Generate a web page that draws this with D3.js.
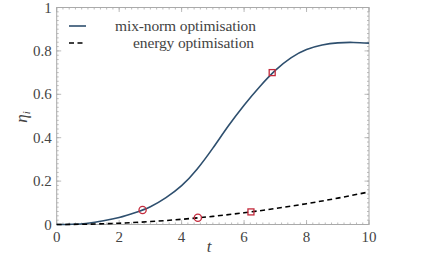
<!DOCTYPE html>
<html>
<head>
<meta charset="utf-8">
<script src="https://cdn.jsdelivr.net/npm/d3@7"></script>
<style>
body { margin: 0; background: #fff; }
</style>
</head>
<body>
<div id="chart"></div>
<script>
var width = 436, height = 258,
    margin = {top: 7.5, right: 67, bottom: 33.5, left: 56.7}
var font = "\"Liberation Serif\""

// mix-norm optimisation curve
var mixT = [0, 0.5, 1, 1.5, 2, 2.5, 3, 3.5, 4, 4.5, 5, 5.5, 6, 6.5, 7, 7.5, 8, 8.5, 9, 9.5, 10]
var mixV = [0, 0.001, 0.006, 0.017, 0.032, 0.054, 0.082, 0.124, 0.179, 0.256, 0.352, 0.455, 0.55, 0.635, 0.71, 0.768, 0.806, 0.827, 0.837, 0.839, 0.836]
// energy optimisation curve
var enT = [0, 1, 2, 3, 4, 5, 6, 7, 8, 9, 10]
var enV = [0, 0.0015, 0.006, 0.0135, 0.024, 0.0375, 0.054, 0.0735, 0.096, 0.1215, 0.15]
// markers
var circleT = [2.75, 4.52], circleV = [0.067, 0.031]
var squareT = [6.9, 6.22], squareV = [0.70, 0.058]

var xTicks = [0, 2, 4, 6, 8, 10]
var yTicks = [0, 0.2, 0.4, 0.6, 0.8, 1]
var yTickLabels = ["0", "0.2", "0.4", "0.6", "0.8", "1"]

var w = width - margin.left - margin.right,
    h = height - margin.top - margin.bottom

var svg = d3.select("#chart").append("svg")
    .attr("width", width)
    .attr("height", height)

var g = svg.append("g")
    .attr("transform", "translate(" + margin.left + "," + margin.top + ")")

var x = d3.scaleLinear().domain([0, 10]).range([0, w])
var y = d3.scaleLinear().domain([0, 1]).range([h, 0])

var frameColor = "#aaa", textColor = "#444"

// frame
g.append("rect")
    .attr("width", w).attr("height", h)
    .attr("fill", "none").attr("stroke", frameColor).attr("stroke-width", 1)

var minorX = d3.range(0, 10.001, 0.2), minorY = d3.range(0, 1.0001, 0.02)

// ticks on all four sides, pointing inward
function tickLines(sel, vals, len, horiz, pos, dir) {
  sel.selectAll(null).data(vals).enter().append("line")
    .attr("x1", function(d) { return horiz ? x(d) : pos })
    .attr("x2", function(d) { return horiz ? x(d) : pos + dir * len })
    .attr("y1", function(d) { return horiz ? pos : y(d) })
    .attr("y2", function(d) { return horiz ? pos + dir * len : y(d) })
    .attr("stroke", frameColor).attr("stroke-width", 0.8)
}
var ticks = g.append("g")
tickLines(ticks, minorX, 2, true, h, -1)
tickLines(ticks, minorX, 2, true, 0, 1)
tickLines(ticks, xTicks, 4.5, true, h, -1)
tickLines(ticks, xTicks, 4.5, true, 0, 1)
tickLines(ticks, minorY, 2, false, 0, 1)
tickLines(ticks, minorY, 2, false, w, -1)
tickLines(ticks, yTicks, 4.5, false, 0, 1)
tickLines(ticks, yTicks, 4.5, false, w, -1)

// tick labels
g.selectAll(".xl").data(xTicks).enter().append("text")
    .attr("x", function(d) { return x(d) })
    .attr("y", h + 17)
    .attr("text-anchor", "middle")
    .attr("font-size", 15).attr("fill", textColor)
    .style("font-family", font)
    .text(function(d) { return d })

g.selectAll(".yl").data(yTicks).enter().append("text")
    .attr("x", -5)
    .attr("y", function(d) { return y(d) + 5 })
    .attr("text-anchor", "end")
    .attr("font-size", 15).attr("fill", textColor)
    .style("font-family", font)
    .text(function(d, i) { return yTickLabels[i] })

// axis labels
svg.append("text")
    .attr("x", 209).attr("y", 252)
    .attr("text-anchor", "middle").attr("fill", textColor)
    .attr("font-size", 17).attr("font-style", "italic")
    .style("font-family", font)
    .text("t")

var yl = svg.append("text")
    .attr("transform", "translate(27,117) rotate(-90)")
    .attr("text-anchor", "middle").attr("fill", textColor)
    .attr("font-size", 17).attr("font-style", "italic")
    .style("font-family", font)
yl.append("tspan").text("η")
yl.append("tspan").attr("font-size", 11).attr("dy", 3).text("i")

// curves
var line = d3.line()
    .x(function(d) { return x(d[0]) })
    .y(function(d) { return y(d[1]) })
    .curve(d3.curveNatural)

g.append("path")
    .attr("d", line(mixT.map(function(t, i) { return [t, mixV[i]] })))
    .attr("fill", "none").attr("stroke", "#2e4f6e").attr("stroke-width", 1.6)

g.append("path")
    .attr("d", line(enT.map(function(t, i) { return [t, enV[i]] })))
    .attr("fill", "none").attr("stroke", "#000").attr("stroke-width", 1.6)
    .attr("stroke-dasharray", "5,3.5")

// markers
var red = "#c42a3c"
g.selectAll(".circ").data(circleT).enter().append("circle")
    .attr("cx", function(d) { return x(d) })
    .attr("cy", function(d, i) { return y(circleV[i]) })
    .attr("r", 3.6)
    .attr("fill", "none").attr("stroke", red).attr("stroke-width", 1.3)

g.selectAll(".sq").data(squareT).enter().append("rect")
    .attr("x", function(d) { return x(d) - 3 })
    .attr("y", function(d, i) { return y(squareV[i]) - 3 })
    .attr("width", 6).attr("height", 6)
    .attr("fill", "none").attr("stroke", red).attr("stroke-width", 1.3)

// legend
var legend = svg.append("g")
legend.append("line")
    .attr("x1", 69).attr("x2", 86).attr("y1", 26).attr("y2", 26)
    .attr("stroke", "#2e4f6e").attr("stroke-width", 1.6)
legend.append("line")
    .attr("x1", 69).attr("x2", 86).attr("y1", 43).attr("y2", 43)
    .attr("stroke", "#000").attr("stroke-width", 1.6)
    .attr("stroke-dasharray", "5,3.5")
legend.append("text")
    .attr("x", 115).attr("y", 30.5).attr("fill", textColor)
    .attr("font-size", 15.5)
    .attr("textLength", 141).attr("lengthAdjust", "spacing")
    .style("font-family", font)
    .text("mix-norm optimisation")
legend.append("text")
    .attr("x", 133).attr("y", 47.5).attr("fill", textColor)
    .attr("font-size", 15.5)
    .attr("textLength", 121).attr("lengthAdjust", "spacing")
    .style("font-family", font)
    .text("energy optimisation")
</script>
</body>
</html>
